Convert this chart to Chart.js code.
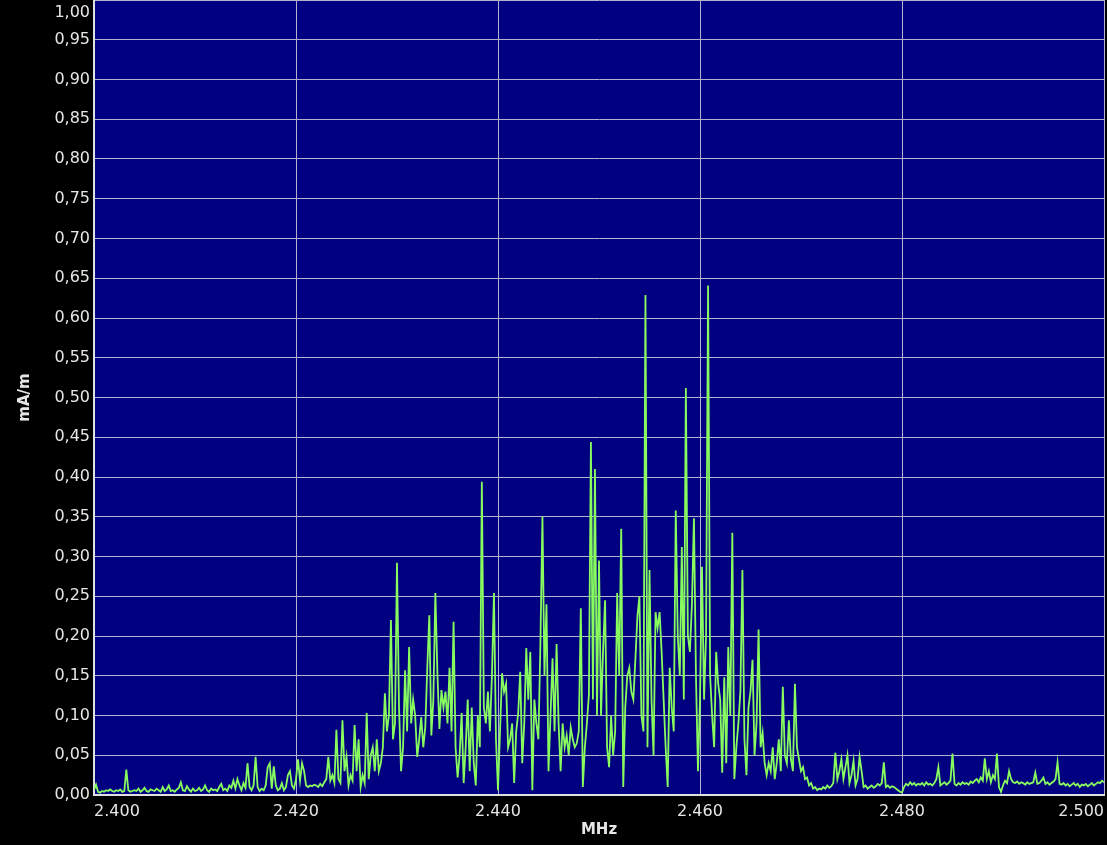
<!DOCTYPE html>
<html>
<head>
<meta charset="utf-8">
<script src="https://cdn.jsdelivr.net/npm/chart.js"></script>
<style>
  html, body { margin: 0; padding: 0; background: #000; }
  #spectrum { display: block; }
</style>
</head>
<body>
<canvas id="spectrum" width="1107" height="845"></canvas>
<script>
// frequency grid of the sweep (MHz)
const freqStart = 2.400;
const freqStep = 0.0002;

// measured field strength, mA/m (one row = 10 samples)
const fieldValues = [
  0.006,0.013,0.004,0.003,0.005,0.004,0.006,0.005,0.007,0.005,
  0.004,0.006,0.005,0.007,0.004,0.005,0.032,0.006,0.004,0.005,
  0.006,0.005,0.008,0.004,0.006,0.009,0.005,0.004,0.007,0.006,
  0.005,0.008,0.006,0.004,0.010,0.005,0.007,0.012,0.005,0.006,
  0.004,0.007,0.009,0.016,0.006,0.005,0.011,0.007,0.004,0.008,
  0.005,0.006,0.009,0.005,0.007,0.012,0.006,0.004,0.008,0.006,
  0.007,0.005,0.010,0.014,0.006,0.008,0.005,0.012,0.009,0.018,
  0.008,0.020,0.012,0.006,0.015,0.009,0.040,0.010,0.006,0.012,
  0.048,0.010,0.005,0.008,0.006,0.012,0.035,0.040,0.008,0.036,
  0.012,0.006,0.008,0.015,0.006,0.010,0.025,0.030,0.012,0.008,
  0.020,0.045,0.018,0.040,0.030,0.012,0.010,0.012,0.011,0.013,
  0.012,0.010,0.014,0.011,0.016,0.020,0.048,0.018,0.025,0.015,
  0.082,0.020,0.015,0.094,0.030,0.048,0.012,0.025,0.018,0.088,
  0.030,0.070,0.010,0.025,0.015,0.103,0.020,0.050,0.060,0.030,
  0.070,0.030,0.040,0.060,0.128,0.080,0.100,0.220,0.070,0.090,
  0.292,0.110,0.030,0.060,0.157,0.080,0.186,0.090,0.120,0.100,
  0.048,0.070,0.098,0.060,0.085,0.160,0.226,0.075,0.120,0.254,
  0.153,0.083,0.132,0.110,0.130,0.090,0.160,0.080,0.218,0.060,
  0.022,0.050,0.103,0.015,0.060,0.120,0.030,0.110,0.040,0.012,
  0.100,0.060,0.394,0.110,0.090,0.130,0.080,0.150,0.254,0.070,
  0.006,0.080,0.153,0.130,0.140,0.060,0.070,0.090,0.015,0.080,
  0.103,0.155,0.040,0.090,0.185,0.120,0.180,0.006,0.120,0.090,
  0.070,0.190,0.350,0.150,0.240,0.030,0.100,0.172,0.080,0.190,
  0.090,0.030,0.090,0.060,0.075,0.050,0.085,0.070,0.060,0.065,
  0.080,0.235,0.010,0.060,0.090,0.126,0.444,0.120,0.410,0.100,
  0.295,0.100,0.180,0.245,0.060,0.035,0.100,0.050,0.080,0.254,
  0.150,0.335,0.010,0.110,0.150,0.160,0.130,0.120,0.170,0.224,
  0.250,0.100,0.080,0.629,0.060,0.283,0.120,0.050,0.230,0.210,
  0.230,0.180,0.120,0.060,0.010,0.160,0.110,0.080,0.358,0.200,
  0.150,0.312,0.120,0.512,0.200,0.180,0.240,0.348,0.150,0.030,
  0.120,0.287,0.120,0.200,0.641,0.150,0.100,0.060,0.180,0.140,
  0.120,0.028,0.148,0.040,0.186,0.100,0.330,0.020,0.060,0.090,
  0.130,0.283,0.070,0.025,0.110,0.130,0.170,0.050,0.090,0.208,
  0.060,0.078,0.040,0.025,0.040,0.030,0.060,0.020,0.040,0.070,
  0.030,0.136,0.050,0.040,0.094,0.045,0.030,0.140,0.060,0.045,
  0.030,0.035,0.020,0.022,0.012,0.015,0.008,0.010,0.006,0.008,
  0.007,0.010,0.008,0.012,0.009,0.011,0.015,0.053,0.020,0.030,
  0.045,0.020,0.035,0.050,0.015,0.025,0.043,0.012,0.020,0.048,
  0.030,0.010,0.012,0.008,0.010,0.012,0.009,0.011,0.014,0.012,
  0.015,0.041,0.010,0.012,0.009,0.011,0.010,0.008,0.006,0.004,
  0.003,0.010,0.014,0.012,0.016,0.013,0.015,0.012,0.014,0.013,
  0.015,0.012,0.016,0.013,0.014,0.012,0.015,0.020,0.035,0.012,
  0.014,0.016,0.013,0.015,0.018,0.052,0.014,0.012,0.015,0.013,
  0.016,0.014,0.015,0.013,0.017,0.015,0.018,0.020,0.016,0.022,
  0.018,0.046,0.020,0.030,0.016,0.025,0.020,0.052,0.010,0.004,
  0.012,0.018,0.015,0.030,0.020,0.016,0.015,0.017,0.014,0.016,
  0.015,0.013,0.016,0.014,0.015,0.016,0.028,0.014,0.015,0.018,
  0.022,0.014,0.016,0.013,0.015,0.017,0.020,0.041,0.014,0.013,
  0.015,0.012,0.014,0.011,0.013,0.015,0.012,0.014,0.010,0.013,
  0.012,0.014,0.011,0.013,0.015,0.012,0.014,0.016,0.015,0.018,
  0.016
];

// axis ticks
const xTicks = [2.400, 2.420, 2.440, 2.460, 2.480, 2.500];
const yMin = 0, yMax = 1.0, yStep = 0.05;

const points = fieldValues.map((v, i) => ({ x: freqStart + i * freqStep, y: v }));

const labelFont = { family: 'DejaVu Sans', size: 16 };
const titleFont = { family: 'DejaVu Sans', size: 15, weight: 'bold' };

// navy plot area + the top "1,00" label that would otherwise be clipped
const plotBg = {
  id: 'plotBg',
  beforeDraw(chart) {
    const { ctx, chartArea: a } = chart;
    ctx.save();
    ctx.fillStyle = '#000080';
    ctx.fillRect(a.left, a.top, a.right - a.left, a.bottom - a.top);
    ctx.restore();
  },
  afterDraw(chart) {
    const { ctx, chartArea: a } = chart;
    ctx.save();
    ctx.font = '16px "DejaVu Sans"';
    ctx.fillStyle = '#e6e6e6';
    ctx.textAlign = 'right';
    ctx.textBaseline = 'middle';
    ctx.fillText('1,00', a.left - 4, a.top + 13);
    ctx.restore();
  }
};

new Chart(document.getElementById('spectrum'), {
  type: 'line',
  data: {
    datasets: [{
      label: 'mA/m',
      data: points,
      borderColor: '#88fb5e',
      borderWidth: 1.8,
      pointRadius: 0,
      tension: 0,
      fill: false
    }]
  },
  options: {
    responsive: false,
    animation: false,
    layout: { padding: { left: 0, top: 0, right: 3, bottom: 0 } },
    plugins: {
      legend: { display: false },
      tooltip: { enabled: false }
    },
    scales: {
      x: {
        type: 'linear',
        min: xTicks[0],
        max: xTicks[xTicks.length - 1],
        afterBuildTicks(scale) { scale.ticks = xTicks.map(v => ({ value: v })); },
        afterFit(scale) { scale.height = 50; scale.paddingLeft = 0; scale.paddingRight = 0; },
        ticks: {
          color: '#e6e6e6',
          font: labelFont,
          padding: 7,
          align: 'inner',
          maxRotation: 0,
          callback: v => v.toFixed(3)
        },
        grid: { color: '#b4b4d2', lineWidth: 1, drawTicks: false },
        border: { color: '#e0e0e0', width: 2 },
        title: { display: true, text: 'MHz', color: '#e6e6e6', font: titleFont, padding: { top: 0, bottom: 6 } }
      },
      y: {
        min: yMin,
        max: yMax,
        afterFit(scale) { scale.width = 94; scale.paddingTop = 0; scale.paddingBottom = 0; },
        ticks: {
          stepSize: yStep,
          color: '#e6e6e6',
          font: labelFont,
          padding: 4,
          callback: v => (Math.abs(v - yMax) < 1e-9 ? '' : v.toFixed(2).replace('.', ','))
        },
        grid: { color: '#b4b4d2', lineWidth: 1, drawTicks: false },
        border: { color: '#e0e0e0', width: 2 },
        title: { display: true, text: 'mA/m', color: '#e6e6e6', font: titleFont, padding: { top: 16, bottom: 0 } }
      }
    }
  },
  plugins: [plotBg]
});
</script>
</body>
</html>
